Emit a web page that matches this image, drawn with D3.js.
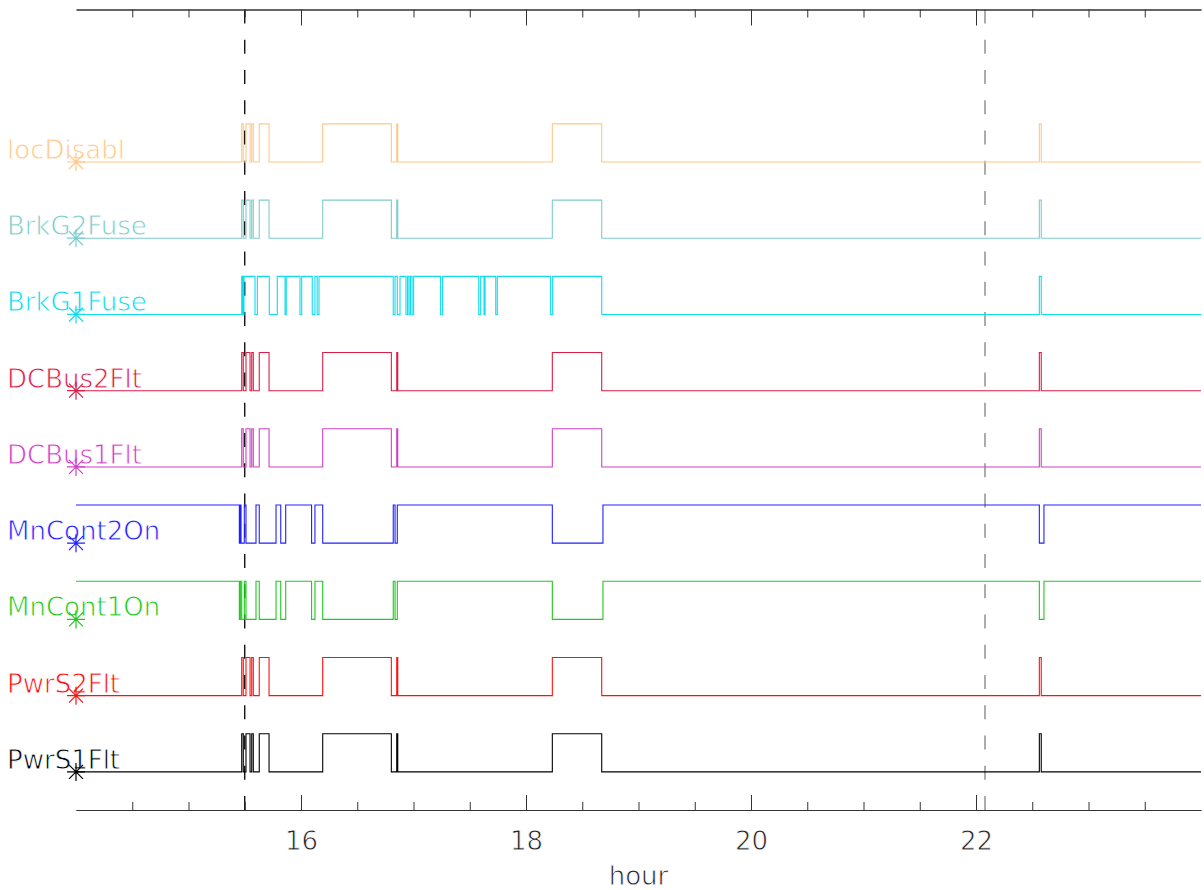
<!DOCTYPE html>
<html>
<head>
<meta charset="utf-8">
<script src="https://cdn.jsdelivr.net/npm/d3@7"></script>
<style>
  body { margin: 0; background: #fff; }
  svg text { font-family: "DejaVu Sans", sans-serif; stroke: #fff; stroke-width: 0.8px; paint-order: fill; }
</style>
</head>
<body>
<div id="chart"></div>
<script>
const w = 1204;
const h = 890;

// signals, bottom row first
const signalNames = ["PwrS1Flt", "PwrS2Flt", "MnCont1On", "MnCont2On", "DCBus1Flt",
  "DCBus2Flt", "BrkG1Fuse", "BrkG2Fuse", "locDisabl"];
const startState = [0, 0, 1, 1, 0, 0, 0, 0, 0];

// switching times (hour)
const faultEdges = [15.473, 15.487, 15.511, 15.547, 15.562, 15.576, 15.629, 15.716,
  16.193, 16.803, 16.851, 16.860, 18.234, 18.673, 22.563, 22.580];
const cont1Edges = [15.452, 15.461, 15.473, 15.496, 15.511, 15.600, 15.629, 15.778,
  15.820, 15.864, 16.094, 16.124, 16.193, 16.820, 16.836, 16.856, 18.234, 18.684,
  22.563, 22.604];
const cont2Edges = [15.452, 15.461, 15.467, 15.496, 15.511, 15.600, 15.629, 15.778,
  15.820, 15.864, 16.094, 16.124, 16.193, 16.820, 16.836, 16.856, 18.234, 18.684,
  22.563, 22.604];
const brkG1Edges = [15.473, 15.480, 15.484, 15.489, 15.493, 15.591, 15.612, 15.718,
  15.789, 15.858, 15.869, 15.991, 16.006, 16.100, 16.124, 16.144, 16.160, 16.820,
  16.836, 16.856, 16.880, 16.933, 16.947, 16.960, 16.973, 16.987, 17.001, 17.241,
  17.259, 17.580, 17.597, 17.627, 17.636, 17.731, 17.745, 18.219, 18.237, 18.673,
  22.563, 22.580];
const signalEdges = [faultEdges, faultEdges, cont1Edges, cont2Edges, faultEdges,
  faultEdges, brkG1Edges, faultEdges, faultEdges];

const majorTicks = [16, 18, 20, 22];
const minorTicks = [14.5, 15, 15.5, 16.5, 17, 17.5, 18.5, 19, 19.5, 20.5, 21, 21.5,
  22.5, 23, 23.5];
const markerHours = [15.5, 22.08];

const colors = ["#000000", "#ff1010", "#20c820", "#2020ff", "#d040c8",
  "#dc1e46", "#10dcf0", "#80cccc", "#ffc888"];
const markerColors = ["#000000", "#808080"];

const svg = d3.select("#chart").append("svg")
  .attr("width", w)
  .attr("height", h);

const x = d3.scaleLinear().domain([14, 24]).range([76, 1201]);
const y = d3.scaleLinear().domain([0, 10.5]).range([810, 9.5]);

// labels first, so the traces sit on top of them
const labels = svg.append("g");
labels.selectAll("text")
  .data(signalNames)
  .enter()
  .append("text")
  .text((d) => d)
  .attr("x", 7)
  .attr("y", (d, i) => y(i + 0.5) - 3)
  .attr("font-size", 26)
  .attr("fill", (d, i) => colors[i]);

svg.append("text")
  .text("hour")
  .attr("x", (x(14) + x(24)) / 2)
  .attr("y", 885)
  .attr("text-anchor", "middle")
  .attr("font-size", 26)
  .attr("fill", "#222");

// dashed marker lines
svg.selectAll(".marker")
  .data(markerHours)
  .enter()
  .append("line")
  .attr("x1", (d) => x(d))
  .attr("x2", (d) => x(d))
  .attr("y1", y(10.5))
  .attr("y2", y(0))
  .attr("stroke", (d, i) => markerColors[i])
  .attr("stroke-width", 1.3)
  .attr("stroke-dasharray", "14 16.25");

// bottom axis
const bottomAxis = svg.append("g").attr("transform", "translate(0," + y(0) + ")");
bottomAxis.call(d3.axisBottom(x).tickValues(minorTicks).tickSizeInner(-8).tickSizeOuter(0).tickFormat(""));
bottomAxis.append("g").call(d3.axisBottom(x).tickValues(majorTicks).tickSizeInner(-15).tickSizeOuter(0));
bottomAxis.selectAll("text")
  .attr("y", 40)
  .attr("dy", 0)
  .attr("font-size", 26)
  .attr("fill", "#222");
bottomAxis.selectAll("g").attr("font-family", null).attr("font-size", null);

// top axis
const topAxis = svg.append("g").attr("transform", "translate(0," + y(10.5) + ")");
topAxis.call(d3.axisTop(x).tickValues(minorTicks).tickSizeInner(-8).tickSizeOuter(0).tickFormat(""));
topAxis.append("g").call(d3.axisTop(x).tickValues(majorTicks).tickSizeInner(-16).tickSizeOuter(0).tickFormat(""));

svg.selectAll(".domain").attr("stroke", "#333");
svg.selectAll(".tick line").attr("stroke", "#333");

// step traces
const line = d3.line()
  .x((d) => x(d[0]))
  .y((d) => d[1])
  .curve(d3.curveStepAfter);

const stepPoints = function (i) {
  let v = startState[i];
  const pts = [[14, y(i + 0.5 + 0.5 * v)]];
  for (let k = 0; k < signalEdges[i].length; k++) {
    v = 1 - v;
    pts.push([signalEdges[i][k], y(i + 0.5 + 0.5 * v)]);
  }
  pts.push([24, y(i + 0.5 + 0.5 * v)]);
  return pts;
};

const rows = svg.selectAll(".row")
  .data(signalNames)
  .enter()
  .append("g");

rows.append("path")
  .attr("d", (d, i) => line(stepPoints(i)))
  .attr("fill", "none")
  .attr("stroke", (d, i) => colors[i])
  .attr("stroke-width", 1.1);

// asterisk symbol at the start of each trace
const star = "M-9,0L9,0M0,-9L0,9M-7,-7L7,7M-7,7L7,-7";
rows.append("path")
  .attr("d", star)
  .attr("transform", (d, i) => "translate(" + x(14) + "," + y(i + 0.5) + ")")
  .attr("fill", "none")
  .attr("stroke", (d, i) => colors[i])
  .attr("stroke-width", 1.2);
</script>
</body>
</html>
